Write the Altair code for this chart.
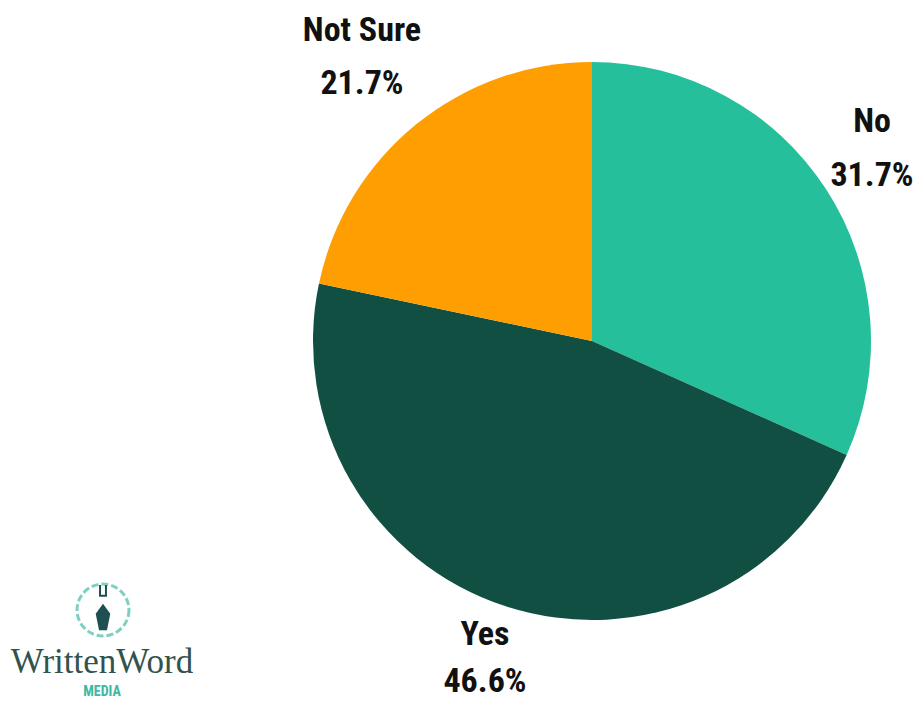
import altair as alt
import pandas as pd

categories = ["No", "Yes", "Not Sure"]
values = [31.7, 46.6, 21.7]
colors = ["#26BF9C", "#114F43", "#FF9E00"]
label_text = ["Not Sure", "21.7%", "No", "31.7%", "Yes", "46.6%"]
label_px = [362, 362, 872, 872, 485, 485]
label_py = [31, 84, 122, 176, 635, 682]
logo_word = ["WrittenWord"]
logo_word_x = [102]
logo_word_y = [662]
logo_media = ["MEDIA"]
logo_media_x = [102]
logo_media_y = [692]
logo_ring_x = [103]
logo_ring_y = [610]
logo_pen_y = [617]
logo_nib_y = [591]

df = pd.DataFrame({"category": categories, "value": values, "order": [0, 1, 2]})
labels = pd.DataFrame({"t": label_text, "px": label_px, "py": label_py})

W, H = 907, 693
X = alt.X("px:Q", scale=alt.Scale(domain=[8, 8 + W], nice=False, zero=False), axis=None)
Y = alt.Y("py:Q", scale=alt.Scale(domain=[8 + H, 8], nice=False, zero=False), axis=None)

pie = alt.Chart(df).mark_arc(outerRadius=279).encode(
    theta=alt.Theta("value:Q", stack=True, scale=alt.Scale(domain=[0, 100], range=[0, 6.28319])),
    order=alt.Order("order:Q"),
    color=alt.Color("category:N", scale=alt.Scale(domain=categories, range=colors), legend=None),
    x=alt.value(584), y=alt.value(333),
)
text = alt.Chart(labels).mark_text(font="Roboto Condensed, DejaVu Sans Condensed, Roboto", fontWeight="bold",
                                   fontSize=34, color="#111111").encode(x=X, y=Y, text="t:N")
word = alt.Chart(pd.DataFrame({"t": logo_word, "px": logo_word_x, "py": logo_word_y})).mark_text(
    font="Liberation Serif", fontSize=35, color="#33524C").encode(x=X, y=Y, text="t:N")
media = alt.Chart(pd.DataFrame({"t": logo_media, "px": logo_media_x, "py": logo_media_y})).mark_text(
    font="Roboto Condensed", fontWeight="bold", fontSize=14, color="#3BB8A5").encode(x=X, y=Y, text="t:N")
ring = alt.Chart(pd.DataFrame({"px": logo_ring_x, "py": logo_ring_y})).mark_point(
    shape="circle", size=2700, filled=False, stroke="#7FCFC2", strokeWidth=3, strokeDash=[7, 3], opacity=1
).encode(x=X, y=Y)
pen = alt.Chart(pd.DataFrame({"px": logo_ring_x, "py": logo_pen_y})).mark_point(
    shape="M0,-1 L0.55,-0.25 L0.3,1 L-0.3,1 L-0.55,-0.25 Z", size=700, filled=True, color="#1F4F50", opacity=1
).encode(x=X, y=Y)
nib = alt.Chart(pd.DataFrame({"px": logo_ring_x, "py": logo_nib_y})).mark_point(
    shape="M-0.5,-1 L-0.5,0.8 L0.5,0.8 L0.5,-1", size=140, filled=False, stroke="#1F4F50", strokeWidth=2, opacity=1
).encode(x=X, y=Y)

chart = alt.layer(pie, text, word, media, ring, pen, nib).properties(
    width=W, height=H, padding=0, autosize=alt.AutoSizeParams(type="none")
).configure_view(stroke=None)
chart.save("out.html", embed_options={"renderer": "svg", "actions": False})
